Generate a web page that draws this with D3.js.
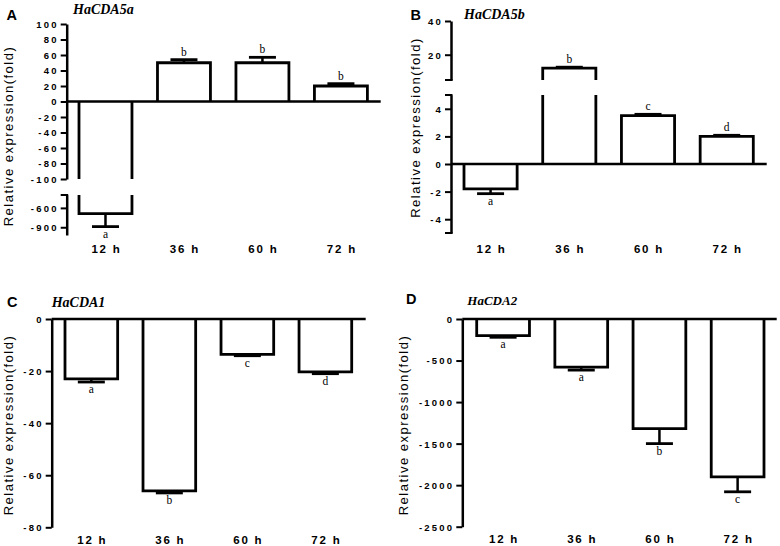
<!DOCTYPE html>
<html><head><meta charset="utf-8">
<script src="https://cdn.jsdelivr.net/npm/d3@7"></script>
<style>
html,body{margin:0;padding:0;background:#fff;}
svg{display:block;}
</style></head>
<body>
<svg id="chart" width="780" height="546"></svg>
<script>
// ---------- DATA ----------
const categories = ["12 h", "36 h", "60 h", "72 h"];

const cda5aValues  = [-690, 50, 50, 20];
const cda5aErrors  = [200, 4, 7, 3];
const cda5aLetters = ["a", "b", "b", "b"];
const cda5aUpperTicks = [100, 80, 60, 40, 20, 0, -20, -40, -60, -80, -100];
const cda5aUpperLabels = ["100", "80", "60", "40", "20", "0", "-20", "-40", "-60", "-80", "-100"];
const cda5aLowerTicks = [-600, -900];
const cda5aLowerLabels = ["-600", "-900"];

const cda5bValues  = [-1.8, 12, 3.5, 2.0];
const cda5bErrors  = [0.35, 0.6, 0.1, 0.08];
const cda5bLetters = ["a", "b", "c", "d"];
const cda5bUpperTicks = [40, 20];
const cda5bUpperLabels = ["40", "20"];
const cda5bLowerTicks = [4, 2, 0, -2, -4];
const cda5bLowerLabels = ["4", "2", "0", "-2", "-4"];

const cda1Values  = [-23, -66, -13.6, -20.3];
const cda1Errors  = [1.2, 0.8, 0.5, 0.7];
const cda1Letters = ["a", "b", "c", "d"];
const cda1Ticks = [0, -20, -40, -60, -80];
const cda1Labels = ["0", "-20", "-40", "-60", "-80"];

const cda2Values  = [-200, -580, -1320, -1900];
const cda2Errors  = [20, 35, 180, 180];
const cda2Letters = ["a", "a", "b", "c"];
const cda2Ticks = [0, -500, -1000, -1500, -2000, -2500];
const cda2Labels = ["0", "-500", "-1000", "-1500", "-2000", "-2500"];

const panelLetters = ["A", "B", "C", "D"];
const geneTitles = ["HaCDA5a", "HaCDA5b", "HaCDA1", "HaCDA2"];
const yAxisTitle = "Relative expression(fold)";

// ---------- LAYOUT ----------
const panels = [
  { letter: panelLetters[0], letterPos: [6.5, 20], title: geneTitles[0], titlePos: [73, 13.5], titleSize: 14,
    axisX: 66.7, zeroEnd: 380.7, xRange: [79, 367.4], xLabelY: 253,
    yTitlePos: [12.5, 136],
    values: cda5aValues, errors: cda5aErrors, letters: cda5aLetters,
    segments: [
      { domain: [100, -100], range: [24, 179], ticks: cda5aUpperTicks, labels: cda5aUpperLabels, breakTicks: [] },
      { domain: [-400, -1020], range: [195, 235], ticks: cda5aLowerTicks, labels: cda5aLowerLabels, breakTicks: [-400] }
    ] },
  { letter: panelLetters[1], letterPos: [410.5, 19.5], title: geneTitles[1], titlePos: [464, 19.3], titleSize: 14,
    axisX: 451, zeroEnd: 766.7, xRange: [464, 753.3], xLabelY: 253.3,
    yTitlePos: [420, 127.5],
    values: cda5bValues, errors: cda5bErrors, letters: cda5bLetters,
    segments: [
      { domain: [40, 5], range: [21, 80], ticks: cda5bUpperTicks, labels: cda5bUpperLabels, breakTicks: [5] },
      { domain: [5, -5], range: [95, 233], ticks: cda5bLowerTicks, labels: cda5bLowerLabels, breakTicks: [5, -5] }
    ] },
  { letter: panelLetters[2], letterPos: [7, 306.7], title: geneTitles[2], titlePos: [51.7, 306.7], titleSize: 14,
    axisX: 51.7, zeroEnd: 365.7, xRange: [65, 351.7], xLabelY: 544,
    yTitlePos: [13, 425],
    values: cda1Values, errors: cda1Errors, letters: cda1Letters,
    segments: [
      { domain: [0, -80], range: [319, 527.3], ticks: cda1Ticks, labels: cda1Labels, breakTicks: [] }
    ] },
  { letter: panelLetters[3], letterPos: [406, 303.5], title: geneTitles[3], titlePos: [467.3, 305], titleSize: 13,
    axisX: 462.3, zeroEnd: 776.7, xRange: [476.7, 764], xLabelY: 543,
    yTitlePos: [408, 425],
    values: cda2Values, errors: cda2Errors, letters: cda2Letters,
    segments: [
      { domain: [0, -2500], range: [319, 526.7], ticks: cda2Ticks, labels: cda2Labels, breakTicks: [] }
    ] }
];

const SANS = "'Liberation Sans', Arial, sans-serif";
const SERIF = "'Liberation Serif', 'Times New Roman', serif";
const BAR_W = 2.8, AXIS_W = 2.5;

const svg = d3.select("#chart");

panels.forEach(p => {
  const g = svg.append("g");
  const x = d3.scaleBand().domain(categories).range(p.xRange).paddingInner(0.325).paddingOuter(0);
  const bw = x.bandwidth();

  g.append("text").attr("x", p.letterPos[0]).attr("y", p.letterPos[1])
    .attr("font-family", SANS).attr("font-weight", "bold").attr("font-size", 14.5).text(p.letter);
  g.append("text").attr("x", p.titlePos[0]).attr("y", p.titlePos[1])
    .attr("font-family", SERIF).attr("font-weight", "bold").attr("font-style", "italic")
    .attr("font-size", p.titleSize).text(p.title);
  g.append("text")
    .attr("transform", `translate(${p.yTitlePos[0]},${p.yTitlePos[1]}) rotate(-90)`)
    .attr("text-anchor", "middle").attr("font-family", SANS).attr("font-size", 13)
    .attr("letter-spacing", 1.5).text(yAxisTitle);

  p.segments.forEach(seg => {
    const y = d3.scaleLinear().domain(seg.domain).range(seg.range);
    const [dHi, dLo] = seg.domain;

    const axis = d3.axisLeft(y).tickValues(seg.ticks).tickSize(6).tickSizeOuter(0)
      .tickFormat((d, i) => seg.labels[i]);
    const ag = g.append("g").attr("transform", `translate(${p.axisX},0)`).call(axis);
    ag.select(".domain").attr("stroke", "#000").attr("stroke-width", AXIS_W);
    ag.selectAll(".tick line").attr("stroke", "#000").attr("stroke-width", 2);
    ag.selectAll(".tick text").attr("font-family", SANS).attr("font-weight", "bold")
      .attr("font-size", 9.5).attr("letter-spacing", 2.2).attr("fill", "#000")
      .attr("x", -8).attr("dy", "0.36em");
    seg.breakTicks.forEach(t => {
      g.append("line").attr("x1", p.axisX - 6).attr("x2", p.axisX + 1.5)
        .attr("y1", y(t)).attr("y2", y(t)).attr("stroke", "#000").attr("stroke-width", 2);
    });

    if (0 <= dHi && 0 >= dLo) {
      g.append("line").attr("x1", p.axisX).attr("x2", p.zeroEnd)
        .attr("y1", y(0)).attr("y2", y(0)).attr("stroke", "#000").attr("stroke-width", AXIS_W);
    }

    categories.forEach((c, i) => {
      const v = p.values[i], e = p.errors[i];
      const lo = Math.min(0, v), hi = Math.max(0, v);
      const sLo = Math.max(lo, dLo), sHi = Math.min(hi, dHi);
      if (sHi <= sLo) return;
      const L = x(c), R = x(c) + bw, cx = x(c) + bw / 2;
      const inSeg = v <= dHi && v >= dLo;
      const base = v > 0 ? sLo : sHi;
      let path;
      if (inSeg) {
        path = `M${L},${y(base)}V${y(v)}H${R}V${y(base)}`;
      } else {
        path = `M${L},${y(sLo)}V${y(sHi)}M${R},${y(sLo)}V${y(sHi)}`;
      }
      g.append("path").attr("d", path).attr("fill", "none").attr("stroke", "#000")
        .attr("stroke-width", BAR_W).attr("stroke-linejoin", "miter");

      if (inSeg) {
        const end = v > 0 ? v + e : v - e;
        g.append("line").attr("x1", cx).attr("x2", cx).attr("y1", y(v)).attr("y2", y(end))
          .attr("stroke", "#000").attr("stroke-width", 2.5);
        g.append("line").attr("x1", cx - 13.5).attr("x2", cx + 13.5).attr("y1", y(end)).attr("y2", y(end))
          .attr("stroke", "#000").attr("stroke-width", 2.8);
        g.append("text").attr("x", cx).attr("y", v > 0 ? y(end) - 4 : y(end) + 11)
          .attr("text-anchor", "middle").attr("font-family", SERIF).attr("font-size", 11.5)
          .text(p.letters[i]);
      }
    });
  });

  categories.forEach(c => {
    g.append("text").attr("x", x(c) + bw / 2 + 1).attr("y", p.xLabelY)
      .attr("text-anchor", "middle").attr("font-family", SANS).attr("font-weight", "bold")
      .attr("font-size", 11.5).attr("letter-spacing", 1.8).text(c);
  });
});
</script>
</body></html>
